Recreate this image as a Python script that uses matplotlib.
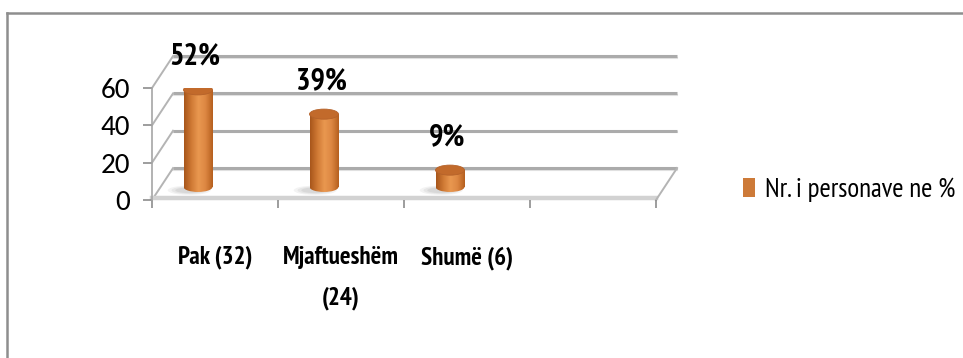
import numpy as np
import matplotlib
matplotlib.use("Agg")
import matplotlib.pyplot as plt
from matplotlib.patches import Ellipse, Polygon, Patch
from matplotlib.lines import Line2D
from matplotlib.colors import LinearSegmentedColormap

plt.rcParams['font.family'] = ['PT Sans Narrow', 'DejaVu Sans']
SHIFRAT = ['Carlito', 'DejaVu Sans']   # numrat e boshtit Y

# Të dhënat e grafikut
kategorite = ['Pak (32)', 'Mjaftueshëm\n(24)', 'Shumë (6)', '']
perqindjet = [52, 39, 9]
etiketat = ['52%', '39%', '9%']
y_ticks = [0, 20, 40, 60]
seria = 'Nr. i personave ne %'

# Ngjyrat
PORTOKALLI = '#CD7A38'
MAJA_CIL = '#C26A2B'
RRJETA = '#ABABAB'
DYSHEME = '#D2D2D2'

# Efekti 3D: zhvendosja e murit të pasmë dhe e cilindrave (në njësi të të dhënave)
DX, DY = 0.167, 17.1       # thellësia e murit të pasmë
BX, BZ = -0.135, 7.0       # pozicioni i cilindrave në mes të thellësisë
GJERESIA = 0.23
ELIPSA = 5.4

fig = plt.figure(figsize=(9.63, 3.58), dpi=100)
fig.patch.set_facecolor('white')
ax = fig.add_axes([152 / 963, 158 / 358, 504 / 963, 112 / 358])
ax.set_facecolor('none')

n = len(kategorite)
x_slot = np.arange(n) + 0.5

# Muri i pasmë: vijat e rrjetës dhe diagonalet majtas
for v in y_ticks:
    ax.plot([DX, n + DX], [v + DY, v + DY], color=RRJETA, lw=2.2,
            solid_capstyle='butt', clip_on=False, zorder=1)
    ax.plot([DX, n + DX], [v + DY - 0.9, v + DY - 0.9], color='#E2E2E2', lw=1.5,
            clip_on=False, zorder=0.9)
    ax.plot([0, DX], [v, v + DY], color='#B4B4B4', lw=1.4, clip_on=False, zorder=1)

# Dyshemeja
dysh = Polygon([(0, 0), (n, 0), (n + DX, DY), (DX, DY)], closed=True,
               facecolor='white', edgecolor='none', clip_on=False, zorder=0.5)
ax.add_patch(dysh)
ax.plot([0, n], [0.9, 0.9], color=DYSHEME, lw=3.2, clip_on=False, zorder=1.2)
ax.plot([n, n + DX], [0, DY], color='#B4B4B4', lw=1.4, clip_on=False, zorder=1.2)

# Cilindrat
gradient = np.linspace(0, 1, 64).reshape(1, -1)
cmap = LinearSegmentedColormap.from_list(
    'cil', ['#A8561B', '#CF7934', '#E99850', '#DD8742', '#B6601F'])

xc = x_slot[:len(perqindjet)] + BX
bars = ax.bar(xc, perqindjet, width=GJERESIA, bottom=BZ,
              facecolor='none', edgecolor='none', zorder=3)

for x, v, bar, et in zip(xc, perqindjet, bars, etiketat):
    x0, x1 = x - GJERESIA / 2, x + GJERESIA / 2
    # hija e butë poshtë cilindrit
    for k, a in enumerate([0.10, 0.12, 0.15]):
        hija = Ellipse((x - 0.07, BZ - 1.8), 0.34 - 0.06 * k, 5.0 - 1.0 * k,
                       facecolor='#8A8A8A', edgecolor='none', alpha=a, zorder=2)
        ax.add_patch(hija)
    # trupi me gradient
    im = ax.imshow(gradient, cmap=cmap, extent=(x0, x1, BZ, BZ + v),
                   aspect='auto', origin='lower', zorder=3)
    im.set_clip_path(bar)
    # fundi i rrumbullakët
    fundi = Ellipse((x, BZ), GJERESIA, ELIPSA, facecolor='none',
                    edgecolor='none', zorder=3)
    ax.add_patch(fundi)
    im2 = ax.imshow(gradient, cmap=cmap, extent=(x0, x1, BZ - ELIPSA / 2, BZ),
                    aspect='auto', origin='lower', zorder=3)
    im2.set_clip_path(fundi)
    # maja
    ax.add_patch(Ellipse((x, BZ + v), GJERESIA, ELIPSA, facecolor=MAJA_CIL,
                         edgecolor='#B5622A', lw=0.6, zorder=4))
    ax.annotate(et, xy=(x, BZ + v), xytext=(-3, 33), textcoords='offset pixels',
                ha='center', va='center', fontsize=22, fontweight='bold',
                color='black', zorder=5)

ax.set_xlim(0, n)
ax.set_ylim(0, 60)

# Boshtet
for sp in ['top', 'right', 'bottom']:
    ax.spines[sp].set_visible(False)
ax.spines['left'].set_color('#A6A6A6')
ax.spines['left'].set_linewidth(1.2)

ax.set_yticks(y_ticks)
ax.set_yticklabels([str(t) for t in y_ticks], fontsize=21, family=SHIFRAT)
ax.tick_params(axis='y', length=6.5, width=1.2, color='#8C8C8C', pad=9)

ax.set_xticks(np.arange(n + 1))
ax.set_xticklabels([])
ax.tick_params(axis='x', which='major', length=6, width=1.2, color='#8C8C8C')
ax.set_xticks(x_slot, minor=True)
ax.set_xticklabels(kategorite, minor=True, fontsize=18, fontweight='bold')
ax.tick_params(axis='x', which='minor', length=0, pad=33)
for lbl in ax.get_xticklabels(minor=True):
    lbl.set_linespacing(1.95)

# Legjenda
fig.legend(handles=[Patch(facecolor=PORTOKALLI, edgecolor='none')], labels=[seria],
           loc='center left', bbox_to_anchor=(743 / 963, 1 - 190 / 358),
           frameon=False, handlelength=0.45, handleheight=0.7, handletextpad=0.35,
           borderpad=0, borderaxespad=0, prop={'size': 19.5})

# Korniza e grafikut
fig.add_artist(Line2D([7 / 963, 7 / 963], [0, 1 - 13 / 358], transform=fig.transFigure,
                      color='#8E8E8E', lw=1.8))
fig.add_artist(Line2D([7 / 963, 1], [1 - 13 / 358, 1 - 13 / 358], transform=fig.transFigure,
                      color='#8E8E8E', lw=1.8))

fig.savefig('out.png', dpi=100, facecolor='white')
